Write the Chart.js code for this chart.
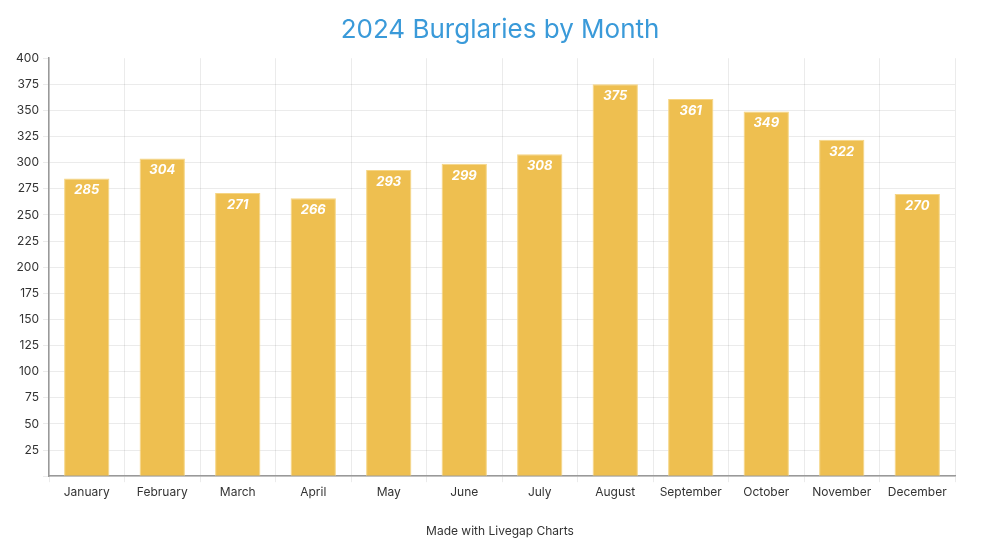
<!DOCTYPE html>
<html>
<head>
<meta charset="utf-8">
<script src="https://cdn.jsdelivr.net/npm/chart.js@4"></script>
<style>
  body { margin: 0; background: #fff; }
  #wrap { width: 1000px; height: 550px; }
</style>
</head>
<body>
<div id="wrap"><canvas id="chartCanvas"></canvas></div>
<script>
const months = ["January", "February", "March", "April", "May", "June", "July", "August", "September", "October", "November", "December"];
const burglaries = [285, 304, 271, 266, 293, 299, 308, 375, 361, 349, 322, 270];
const yTicks = [0, 25, 50, 75, 100, 125, 150, 175, 200, 225, 250, 275, 300, 325, 350, 375, 400];

const gridGrey = "rgba(0,0,0,0.08)";
const noLine = "rgba(0,0,0,0)";

// draws the white italic value inside the top of each bar
const valueLabels = {
    id: "valueLabels",
    afterDatasetsDraw(chart) {
        const ctx = chart.ctx;
        const meta = chart.getDatasetMeta(0);
        ctx.save();
        ctx.fillStyle = "#fff";
        ctx.font = "italic bold 13px Inter, sans-serif";
        ctx.textAlign = "center";
        ctx.textBaseline = "middle";
        meta.data.forEach((bar, i) => {
            ctx.fillText(String(burglaries[i]), bar.x, bar.y + 12);
        });
        ctx.restore();
    }
};

Chart.defaults.font.family = "Inter, sans-serif";
Chart.defaults.color = "#333";

const ctx = document.getElementById("chartCanvas").getContext("2d");
new Chart(ctx, {
    type: "bar",
    data: {
        labels: months,
        datasets: [{
            label: "Burglaries",
            data: burglaries,
            backgroundColor: "#eebf50",
            borderColor: "#f6d584",
            borderWidth: 1,
            barPercentage: 0.6,
            categoryPercentage: 1
        }]
    },
    options: {
        responsive: true,
        maintainAspectRatio: false,
        animation: false,
        layout: { padding: { left: 0, right: 0, top: 0, bottom: 5 } },
        plugins: {
            legend: { display: false },
            tooltip: { enabled: false },
            title: {
                display: true,
                text: "2024 Burglaries by Month",
                color: "#3a9ad9",
                font: { size: 26, weight: "normal" },
                padding: { top: 15, bottom: 12 }
            },
            subtitle: {
                display: true,
                position: "bottom",
                text: "Made with Livegap Charts",
                color: "#333",
                font: { size: 12 },
                padding: { top: 22, bottom: 6 }
            }
        },
        scales: {
            x: {
                grid: {
                    color: c => c.index === months.length ? noLine : gridGrey,
                    tickColor: c => c.index === months.length ? noLine : gridGrey,
                    tickLength: 6,
                    offset: true
                },
                border: { color: "#999", width: 1.5 },
                ticks: { font: { size: 12 }, color: "#333", padding: 3 }
            },
            y: {
                min: yTicks[0],
                max: yTicks[yTicks.length - 1],
                afterBuildTicks: axis => { axis.ticks = yTicks.map(v => ({ value: v })); },
                afterFit: axis => { axis.width = 49; },
                grid: {
                    color: c => c.tick && c.tick.value === yTicks[yTicks.length - 1] ? noLine : gridGrey,
                    tickColor: gridGrey,
                    tickLength: 6
                },
                border: { color: "#999", width: 1.5 },
                ticks: {
                    font: { size: 12 },
                    color: "#333",
                    padding: 4,
                    callback: v => v === 0 ? "" : v
                }
            },
            // empty right-hand axis, only reserves the margin on the right
            yRight: {
                position: "right",
                display: true,
                afterFit: axis => { axis.width = 45; },
                grid: { display: false },
                border: { display: false },
                ticks: { display: false }
            }
        }
    },
    plugins: [valueLabels]
});
</script>
</body>
</html>
